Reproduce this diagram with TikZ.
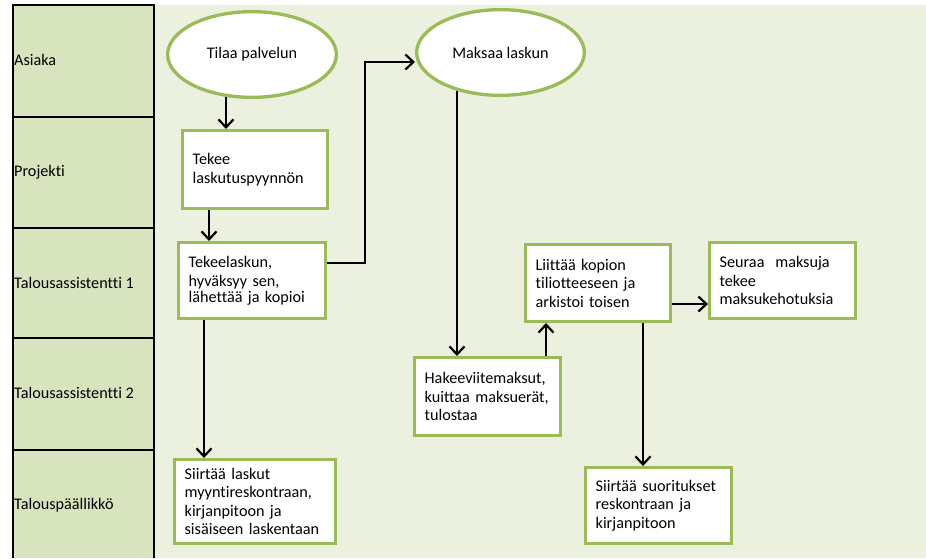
\documentclass[tikz,border=0pt]{standalone}
\usepackage{fontspec}
\setmainfont{Carlito}[Ligatures=CommonOff]
\usetikzlibrary{shapes.geometric,arrows.meta}
\definecolor{lanefill}{HTML}{D7E4BD}
\definecolor{panelfill}{HTML}{EBF1DE}
\definecolor{boxgreen}{HTML}{9BBB59}
\begin{document}
\begin{tikzpicture}[x=1pt,y=-1pt,
  txt/.style={font=\fontsize{16.2}{18.5}\selectfont},
  task/.style 2 args={txt, draw=boxgreen, line width=3.3pt, fill=white,
    rectangle, align=left, inner xsep=10pt, inner ysep=0pt,
    text width=#1, minimum height=#2},
  event/.style 2 args={txt, draw=boxgreen, line width=3.3pt, fill=white,
    ellipse, inner sep=0pt, minimum width=#1, minimum height=#2},
  lanelabel/.style={txt, anchor=west, inner sep=0pt},
  lanerule/.style={line width=2pt},
  arr/.style={line width=2.2pt, -{Straight Barb[length=8pt,width=15pt]}}]
  \useasboundingbox (0,0) rectangle (926,558);
  \fill[white] (0,0) rectangle (926,558);

  % process area and swimlane column
  \fill[panelfill] (154,5) rectangle (926,558);
  \fill[lanefill] (13,5) rectangle (154,558);
  \draw[lanerule] (13,558) -- (13,5) -- (154,5) -- (154,558);
  \foreach \y in {117,228,338,450}
    \draw[lanerule] (13,\y) -- (154,\y);

  % lane titles
  \node[lanelabel] (l1) at (14,60)  {Asiaka};
  \node[lanelabel] (l2) at (14,172) {Projekti};
  \node[lanelabel] (l3) at (14,283) {Talousassistentti 1};
  \node[lanelabel] (l4) at (14,393) {Talousassistentti 2};
  \node[lanelabel] (l5) at (14,505) {Talouspäällikkö};

  % events
  \node[event={168.7pt}{85.7pt}] (e1) at (252,54.5) {Tilaa palvelun\hspace{6pt}};
  \node[event={167.7pt}{85.7pt}] (e2) at (500.5,52.5) {Maksaa laskun};

  % tasks
  \node[task={124.7pt}{77.7pt}] (b1) at (255,169.5)
    {Tekee\\laskutuspyynnön};
  \node[task={126.7pt}{75.7pt}] (b2) at (252,280.5)
    {Tekeelaskun,\\[0.5pt]hyväksyy sen,\\[-2.5pt]lähettää ja kopioi};
  \node[task={140.7pt}{83.7pt}] (b3) at (255,501.5)
    {Siirtää laskut\\myyntireskontraan,\\kirjanpitoon ja\\sisäiseen laskentaan};
  \node[task={125.7pt}{77.7pt}] (b4) at (487.5,396.5)
    {Hakeeviitemaksut,\\kuittaa maksuerät,\\tulostaa};
  \node[task={124.7pt}{76.7pt}] (b5) at (598,283)
    {Liittää kopion\\tiliotteeseen ja\\arkistoi toisen};
  \node[task={125.7pt}{75.7pt}] (b6) at (782.5,280.5)
    {Seuraa\ \ maksuja\\tekee\\maksukehotuksia};
  \node[task={125.7pt}{75.7pt}] (b7) at (658.5,505.5)
    {Siirtää suoritukset\\reskontraan ja\\kirjanpitoon};

  % helper points for connector routes
  \coordinate (s1) at (226,97);
  \coordinate (s4) at (457,91);
  \coordinate (x209) at (209,0);
  \coordinate (x204) at (204,0);
  \coordinate (x546) at (546,0);
  \coordinate (x643) at (643,0);
  \coordinate (y304) at (0,304);
  \coordinate (k1) at (365,263);
  \coordinate (k2) at (365,62);

  % connectors
  \draw[arr] (s1) -- (s1 |- b1.north);
  \draw[arr] (x209 |- b1.south) -- (x209 |- b2.north);
  \draw[arr] (b2.east |- k1) -- (k1) -- (k2) -- (k2 -| e2.west);
  \draw[arr] (s4) -- (s4 |- b4.north);
  \draw[arr] (x204 |- b2.south) -- (x204 |- b3.north);
  \draw[arr] (x546 |- b4.north) -- (x546 |- b5.south);
  \draw[arr] (b5.east |- y304) -- (b6.west |- y304);
  \draw[arr] (x643 |- b5.south) -- (x643 |- b7.north);
\end{tikzpicture}
\end{document}
